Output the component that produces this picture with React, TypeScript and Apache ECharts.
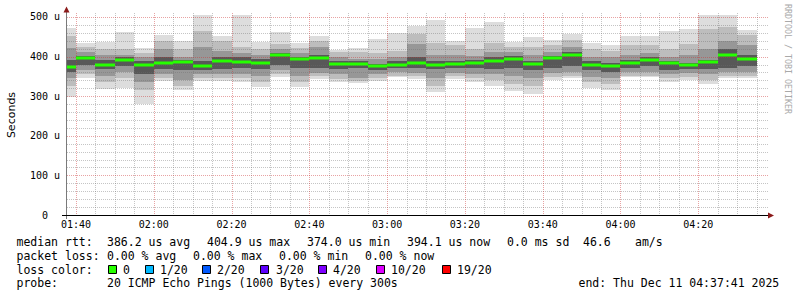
import React, { useEffect, useRef } from 'react';
import * as echarts from 'echarts';

// ---------- data ----------
const startTime = '01:37:41';
const endTime = '04:37:41';

// end time of each 5-minute smoke column (first column starts at startTime)
const slotEnds = [
  '01:40', '01:45', '01:50', '01:55',
  '02:00', '02:05', '02:10', '02:15', '02:20', '02:25', '02:30', '02:35', '02:40', '02:45', '02:50', '02:55',
  '03:00', '03:05', '03:10', '03:15', '03:20', '03:25', '03:30', '03:35', '03:40', '03:45', '03:50', '03:55',
  '04:00', '04:05', '04:10', '04:15', '04:20', '04:25', '04:30', '04:35',
];
const majorTimes = ['01:40', '02:00', '02:20', '02:40', '03:00', '03:20', '03:40', '04:00', '04:20'];
const yLabelValues = [0, 100, 200, 300, 400, 500];
const yMajor = [100, 200, 300, 400, 500];
const yMinor = [20, 40, 60, 80, 120, 140, 160, 180, 220, 240, 260, 280, 320, 340, 360, 380, 420, 440, 460, 480];

// smoke bands (us), outer -> inner
const rttMin = [299, 347, 317, 320, 280, 338, 316, 338, 338, 337, 324, 348, 324, 343, 337, 333, 339, 348, 344, 311, 343, 337, 326, 314, 306, 341, 345, 321, 316, 348, 348, 335, 341, 330, 346, 346];
const rttMax = [471, 435, 438, 462, 421, 455, 439, 505, 452, 505, 437, 462, 434, 452, 417, 421, 444, 460, 476, 492, 440, 472, 487, 437, 449, 442, 457, 435, 429, 453, 453, 465, 469, 505, 505, 467];
const band2Lo = [326, 355, 335, 345, 315, 345, 325, 345, 345, 345, 335, 355, 335, 350, 343, 338, 345, 352, 350, 325, 350, 345, 340, 330, 325, 348, 352, 335, 330, 352, 352, 345, 348, 340, 352, 352];
const band2Hi = [452, 425, 420, 418, 410, 440, 418, 465, 440, 425, 420, 432, 422, 440, 412, 412, 410, 415, 458, 435, 428, 420, 435, 425, 425, 428, 442, 418, 415, 428, 428, 418, 432, 470, 475, 455];
const band3Lo = [345, 365, 350, 362, 335, 355, 340, 355, 355, 355, 350, 365, 350, 358, 355, 345, 355, 360, 358, 345, 358, 355, 355, 350, 345, 358, 360, 348, 345, 360, 362, 355, 358, 355, 362, 362];
const band3Hi = [421, 412, 405, 404, 398, 420, 400, 425, 415, 408, 405, 418, 408, 425, 398, 395, 395, 398, 432, 405, 405, 402, 412, 412, 405, 412, 425, 400, 398, 405, 408, 400, 405, 420, 440, 430];
const band4Lo = [362, 378, 368, 375, 355, 368, 365, 366, 368, 370, 368, 378, 372, 370, 368, 372, 365, 372, 372, 368, 370, 372, 368, 372, 365, 372, 375, 365, 362, 370, 375, 365, 368, 368, 372, 375];
const band4Hi = [392, 402, 392, 398, 388, 400, 392, 388, 400, 398, 395, 410, 400, 405, 388, 388, 382, 388, 400, 390, 390, 392, 398, 402, 390, 402, 412, 388, 385, 392, 398, 390, 385, 392, 420, 405];
const medianRtt = [374.0, 396, 380, 391, 378, 385, 387, 376, 390, 387, 383, 403.5, 394, 396, 381, 381, 375, 380, 385, 380, 381, 385, 390, 395, 382, 396, 404.9, 378, 377, 383, 391, 383, 378, 386, 404, 394.1];

const lossLabels = ['0', '1/20', '2/20', '3/20', '4/20', '10/20', '19/20'];
const lossColors = ['#26ff00', '#00b8ff', '#0059ff', '#5e00ff', '#7e00ff', '#dd00ff', '#ff0000'];

const rttStats = ['386.2 us avg', '404.9 us max', '374.0 us min', '394.1 us now', '0.0 ms sd', '46.6', 'am/s'];
const lossStats = ['0.00 % avg', '0.00 % max', '0.00 % min', '0.00 % now'];
const probeText = '20 ICMP Echo Pings (1000 Bytes) every 300s';
const endText = 'end: Thu Dec 11 04:37:41 2025';

// ---------- layout / styles ----------
const Y_MAX = 505;
const bandColors = ['#dddddd', '#bdbdbd', '#979797', '#585858'];
const MONO = 'DejaVu Sans Mono';
const rttStatX = [107, 207, 307, 407, 507, 583, 635];
const lossStatX = [107, 193, 279, 365];
const lossBoxX = [109, 146, 203, 261, 319, 377, 443];
const lossLabelX = [123, 160, 217, 276, 333, 391, 457];
const rowY = [242, 255.5, 269.5, 283];

const toSec = (s: string) => {
  const p = s.split(':').map(Number);
  return p[0] * 3600 + p[1] * 60 + (p[2] || 0);
};
const fmtHM = (v: number) => {
  const h = Math.floor(v / 3600);
  const m = Math.floor((v % 3600) / 60);
  return String(h).padStart(2, '0') + ':' + String(m).padStart(2, '0');
};

export default function App() {
  const ref = useRef<HTMLDivElement>(null);

  useEffect(() => {
    document.body.style.margin = '0';
    if (!ref.current) return;
    const chart = echarts.init(ref.current, null, { renderer: 'svg' });

    const t0 = toSec(startTime);
    const t1 = toSec(endTime);
    const ends = slotEnds.map(toSec);
    const starts = slotEnds.map((_, i) => (i === 0 ? t0 : ends[i - 1]));
    const bands = [[rttMin, rttMax], [band2Lo, band2Hi], [band3Lo, band3Hi], [band4Lo, band4Hi]];
    const smokeData: number[][] = [];
    bands.forEach(([lo, hi], layer) => {
      slotEnds.forEach((_, i) => smokeData.push([starts[i], ends[i], lo[i], hi[i], layer]));
    });
    const medianData = slotEnds.map((_, i) => [starts[i], ends[i], medianRtt[i]]);
    const majorSec = majorTimes.map(toSec);
    const gridData: number[][] = [];
    slotEnds.filter((t) => majorTimes.indexOf(t) < 0).forEach((t) => gridData.push([toSec(t), 0]));
    yMinor.forEach((v) => gridData.push([v, 2]));
    majorSec.forEach((t) => gridData.push([t, 1]));
    yMajor.forEach((v) => gridData.push([v, 3]));

    const txt = (text: string, x: number, y: number, extra: any = {}) => ({
      type: 'text',
      x,
      y,
      z: 10,
      style: {
        text,
        fill: '#000',
        fontFamily: MONO,
        fontSize: 11.5,
        textAlign: 'left',
        align: 'left',
        textVerticalAlign: 'middle',
        verticalAlign: 'middle',
        ...extra,
      },
    });

    const graphics: any[] = [];
    graphics.push(txt('median rtt:', 16.5, rowY[0]));
    rttStats.forEach((s, i) => graphics.push(txt(s, rttStatX[i], rowY[0])));
    graphics.push(txt('packet loss:', 16.5, rowY[1]));
    lossStats.forEach((s, i) => graphics.push(txt(s, lossStatX[i], rowY[1])));
    graphics.push(txt('loss color:', 16.5, rowY[2]));
    lossLabels.forEach((s, i) => {
      graphics.push({
        type: 'rect',
        z: 10,
        shape: { x: lossBoxX[i] - 0.5, y: 265.5, width: 8, height: 8 },
        style: { fill: lossColors[i], stroke: '#000', lineWidth: 1 },
      });
      graphics.push(txt(s, lossLabelX[i], rowY[2]));
    });
    graphics.push(txt('probe:', 16.5, rowY[3]));
    graphics.push(txt(probeText, 107, rowY[3]));
    graphics.push(txt(endText, 578.5, rowY[3]));
    graphics.push({
      type: 'text',
      x: 788,
      y: 4,
      rotation: -Math.PI / 2,
      z: 10,
      style: {
        text: 'RRDTOOL / TOBI OETIKER',
        fill: '#a9a9a9',
        fontFamily: MONO,
        fontSize: 8.3,
        textAlign: 'left',
        align: 'left',
        textVerticalAlign: 'middle',
        verticalAlign: 'middle',
      },
    });
    // axis lines and arrows
    graphics.push({ type: 'line', z: 11, shape: { x1: 66.5, y1: 11, x2: 66.5, y2: 219 }, style: { stroke: '#7a7a7a', lineWidth: 1 } });
    graphics.push({ type: 'line', z: 11, shape: { x1: 62, y1: 215.5, x2: 769, y2: 215.5 }, style: { stroke: '#000', lineWidth: 1 } });
    graphics.push({ type: 'polygon', z: 12, shape: { points: [[63.5, 12.5], [69.5, 12.5], [66.5, 6.5]] }, style: { fill: '#8b1a1a' } });
    graphics.push({ type: 'polygon', z: 12, shape: { points: [[768, 212.5], [768, 218.5], [774, 215.5]] }, style: { fill: '#8b1a1a' } });

    const option: any = {
      animation: false,
      backgroundColor: '#ffffff',
      grid: { left: 67, right: 30, top: 15, bottom: 82, containLabel: false, outerBoundsMode: 'none' },
      xAxis: {
        type: 'value',
        min: t0,
        max: t1,
        axisLine: { show: false },
        axisTick: { show: false },
        splitLine: { show: false },
        axisLabel: {
          customValues: majorSec,
          formatter: (v: number) => fmtHM(v),
          fontFamily: MONO,
          fontSize: 10,
          color: '#000',
          margin: 4,
        },
      },
      yAxis: {
        type: 'value',
        min: 0,
        max: Y_MAX,
        name: 'Seconds',
        nameLocation: 'middle',
        nameRotate: 90,
        nameGap: 50,
        nameTextStyle: { fontFamily: 'DejaVu Sans', fontSize: 11, color: '#000' },
        axisLine: { show: false },
        axisTick: { show: false },
        splitLine: { show: false },
        axisLabel: {
          customValues: yLabelValues,
          formatter: (v: number) => (v === 0 ? '0\u00a0\u00a0' : v + ' u'),
          fontFamily: MONO,
          fontSize: 10,
          color: '#000',
          margin: 7,
        },
      },
      graphic: graphics,
      series: [
        {
          type: 'custom',
          name: 'smoke',
          z: 2,
          data: smokeData,
          encode: { x: [0, 1], y: [2, 3] },
          renderItem: (params: any, api: any) => {
            const a = api.coord([api.value(0), api.value(3)]);
            const b = api.coord([api.value(1), api.value(2)]);
            const x0 = Math.round(a[0]);
            const x1 = Math.round(b[0]);
            const y0 = Math.round(a[1]);
            const y1 = Math.round(b[1]);
            return {
              type: 'rect',
              shape: { x: x0, y: y0, width: x1 - x0, height: y1 - y0 },
              style: { fill: bandColors[api.value(4)] },
            };
          },
        },
        {
          type: 'custom',
          name: 'grid',
          z: 3,
          silent: true,
          data: gridData,
          encode: { x: 0, y: 1 },
          renderItem: (params: any, api: any) => {
            const v = api.value(0);
            const k = api.value(1);
            const major = k === 1 || k === 3;
            const stroke = major ? 'rgba(205,50,50,0.45)' : 'rgba(110,110,110,0.4)';
            if (k < 2) {
              const top = api.coord([v, Y_MAX]);
              const bot = api.coord([v, 0]);
              const x = Math.round(top[0]) + 0.5;
              return { type: 'line', shape: { x1: x, y1: top[1] - 2, x2: x, y2: bot[1] }, style: { stroke, lineWidth: 1, lineDash: [1, 1] } };
            }
            const l = api.coord([t0, v]);
            const r = api.coord([t1, v]);
            const y = Math.round(l[1]) + 0.5;
            return { type: 'line', shape: { x1: l[0], y1: y, x2: r[0] + 2, y2: y }, style: { stroke, lineWidth: 1, lineDash: [1, 1] } };
          },
        },
        {
          type: 'custom',
          name: 'median',
          z: 4,
          data: medianData,
          encode: { x: [0, 1], y: 2 },
          renderItem: (params: any, api: any) => {
            const a = api.coord([api.value(0), api.value(2)]);
            const b = api.coord([api.value(1), api.value(2)]);
            const x0 = Math.round(a[0]);
            const x1 = Math.round(b[0]);
            const y = Math.round(a[1]);
            return {
              type: 'rect',
              shape: { x: x0, y: y - 1.5, width: x1 - x0, height: 3 },
              style: { fill: lossColors[0] },
            };
          },
        },
      ],
    };
    chart.setOption(option);
    return () => chart.dispose();
  }, []);

  return <div ref={ref} style={{ width: 797, height: 297 }} />;
}
